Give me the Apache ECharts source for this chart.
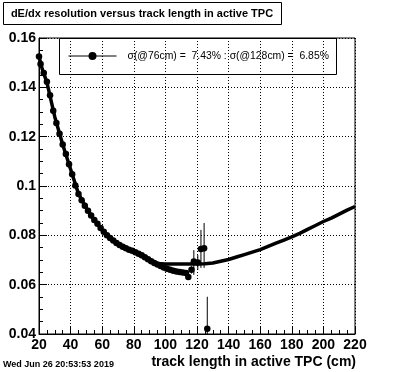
<!DOCTYPE html>
<html><head><meta charset="utf-8">
<script src="https://cdn.jsdelivr.net/npm/echarts@6/dist/echarts.min.js"></script>
<style>html,body{margin:0;padding:0;background:#fff}#c{width:396px;height:372px}</style>
</head><body><div id="c"></div>
<script>
// Track length (cm) and dE/dx resolution — measured points
const lenA = [20,21,23,25,27,29,31,33,35,37,39,41,43,45,47,49,51,53,55,57,59,61,63,65,67,69,71,73,75,77,79,81,83,85,87,89,91,93,95,97,99,101,103,105,107,109,111,113,114.5,116.5,118,120.5,122.5,124.5,126.5];
const resA = [0.1525,0.1495,0.1458,0.1423,0.1368,0.1305,0.1255,0.1212,0.1168,0.1130,0.1088,0.1048,0.1002,0.0968,0.0942,0.0920,0.0900,0.0880,0.0862,0.0847,0.0830,0.0815,0.0800,0.0789,0.0779,0.0769,0.0761,0.0754,0.0748,0.0742,0.0737,0.0731,0.0725,0.0719,0.0711,0.0703,0.0695,0.0688,0.0682,0.0676,0.0670,0.0665,0.0660,0.0656,0.0653,0.0651,0.0649,0.0647,0.0631,0.0660,0.0694,0.0690,0.0745,0.0748,0.0421];
// error bars (x, low, high)
const errX  = [114.5,116.5,118,120.5,122.5,124.5,126.5];
const errLo = [0.0620,0.0645,0.0640,0.0660,0.0668,0.0668,0.0290];
const errHi = [0.0642,0.0675,0.0740,0.0720,0.0822,0.0850,0.0551];
// fitted curve
const lenB = [20,22,25,30,35,40,45,50,55,60,65,70,75,80,85,90,95,100,105,110,115,120,125,130,135,140,145,150,155,160,165,170,175,180,185,190,195,200,205,210,215,220];
const resB = [0.1525,0.1475,0.1420,0.1280,0.1168,0.1068,0.0968,0.0910,0.0862,0.0822,0.0789,0.0765,0.0748,0.0734,0.0719,0.0699,0.0686,0.0684,0.0684,0.0684,0.0684,0.0684,0.0685,0.0688,0.0695,0.0702,0.0712,0.0722,0.0732,0.0742,0.0755,0.0768,0.0781,0.0794,0.0808,0.0824,0.0840,0.0856,0.0870,0.0886,0.0902,0.0917];

const titleText = 'dE/dx resolution versus track length in active TPC';
const legendText = 'σ(@76cm) =  7.43% : σ(@128cm) =  6.85%';
const xTitle = 'track length in active TPC (cm)';
const dateText = 'Wed Jun 26 20:53:53 2019';

const FF = '"Liberation Sans", Arial, Helvetica, sans-serif';
const chart = echarts.init(document.getElementById('c'), null, {renderer:'canvas'});
const axisCommon = {
  axisLine:{show:true,lineStyle:{color:'#000',width:1}},
  axisTick:{show:true,inside:true,length:8,lineStyle:{color:'#000',width:1}},
  minorTick:{show:true,splitNumber:4,length:4,lineStyle:{color:'#000',width:1}},
  splitLine:{show:true,lineStyle:{color:'#000',width:1,type:[1,2]}},
  axisLabel:{color:'#000',fontFamily:FF,fontWeight:'bold',fontSize:14,margin:4}
};
chart.setOption({
  backgroundColor:'#fff',
  animation:false,
  grid:{left:39,right:41,top:38,bottom:38,show:true,borderColor:'#000',borderWidth:1,backgroundColor:'transparent'},
  xAxis:Object.assign({type:'value',min:20,max:220,interval:20},axisCommon),
  yAxis:Object.assign({type:'value',min:0.04,max:0.16,interval:0.02},axisCommon,{axisLabel:Object.assign({},axisCommon.axisLabel,{margin:3})}),
  legend:{
    show:true,left:68,top:51,padding:0,itemWidth:48,itemHeight:10,itemGap:5,
    data:[{name:legendText}],
    textStyle:{color:'#000',fontFamily:FF,fontSize:10.4,padding:[0,0,0,6]},
    lineStyle:{width:1,color:'#000',opacity:1}
  },
  graphic:[
    {type:'rect',shape:{x:3.5,y:2.5,width:278,height:22},style:{fill:'#fff',stroke:'#000',lineWidth:1},z:10},
    {type:'text',x:142,y:13.5,style:{text:titleText,font:'bold 11px '+FF,fill:'#000',align:'center',verticalAlign:'middle'},z:11},
    {type:'rect',shape:{x:59.5,y:38.5,width:277,height:36},style:{fill:'#fff',stroke:'#000',lineWidth:1},z:0},
    {type:'text',x:356,y:362,style:{text:xTitle,font:'bold 14px '+FF,fill:'#000',align:'right',verticalAlign:'middle'}},
    {type:'text',x:3,y:365,style:{text:dateText,font:'bold 9px '+FF,fill:'#000',align:'left',verticalAlign:'middle'}}
  ],
  series:[
    {type:'line',name:'curve',data:lenB.map((x,i)=>[x,resB[i]]),showSymbol:false,symbol:'none',
     lineStyle:{color:'#000',width:3.5},itemStyle:{color:'#000'},z:3},
    {type:'custom',name:'err',data:errX.map((x,i)=>[x,errLo[i],errHi[i]]),clip:true,
     encode:{x:0,y:[1,2]},
     renderItem:function(params,api){
       const p1=api.coord([api.value(0),api.value(1)]);
       const p2=api.coord([api.value(0),api.value(2)]);
       return {type:'line',shape:{x1:p1[0],y1:p1[1],x2:p2[0],y2:p2[1]},style:{stroke:'#000',lineWidth:1}};
     },z:4},
    {type:'line',name:legendText,data:lenA.map((x,i)=>[x,resA[i]]),symbol:'circle',symbolSize:6.5,showSymbol:true,
     lineStyle:{color:'#000',width:0,opacity:0},itemStyle:{color:'#000'},z:5}
  ]
});
</script></body></html>
